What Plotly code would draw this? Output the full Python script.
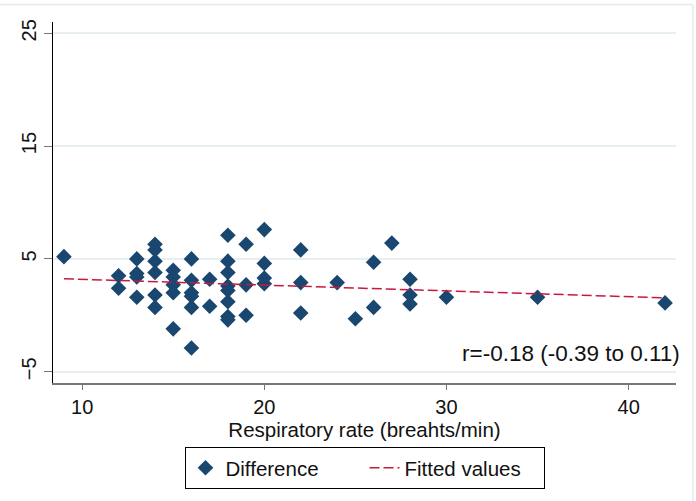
import plotly.graph_objects as go

resp_rate = [9,
             12, 12,
             13, 13, 13, 13,
             14, 14, 14, 14, 14, 14,
             15, 15, 15, 15, 15,
             16, 16, 16, 16, 16, 16,
             17, 17,
             18, 18, 18, 18, 18, 18, 18, 18,
             19, 19, 19,
             20, 20, 20, 20,
             22, 22, 22,
             24, 25, 26, 26, 27,
             28, 28, 28,
             30, 35, 42]
difference = [5.2,
              3.5, 2.4,
              5.0, 3.7, 3.4, 1.6,
              6.3, 5.8, 4.8, 3.8, 1.8, 0.7,
              4.0, 3.4, 2.7, 2.0, -1.2,
              5.0, 3.1, 2.0, 1.7, 0.7, -2.9,
              3.2, 0.8,
              7.1, 4.8, 3.8, 2.6, 2.2, 1.2, -0.1, -0.4,
              6.3, 2.7, 0.0,
              7.6, 4.6, 3.3, 2.8,
              5.8, 2.9, 0.2,
              2.9, -0.3, 4.7, 0.7, 6.4,
              3.2, 1.8, 1.0,
              1.6, 1.6, 1.1]
# fitted values line at its two ends
fit_x = [9, 42]
fit_y = [3.24, 1.55]
x_ticks = [10, 20, 30, 40]
y_ticks = [-5, 5, 15, 25]
annotation_text = "r=-0.18 (-0.39 to 0.11)"

FONT = "Liberation Sans, Arial, Helvetica, sans-serif"
NAVY = "#1a476f"
RED = "#c8183f"
FRAME = "#e4ebed"

fig = go.Figure()
fig.add_trace(go.Scatter(
    x=resp_rate, y=difference, mode="markers", name="Difference",
    marker=dict(symbol="diamond", size=12, color=NAVY, line=dict(width=0)),
))
fig.add_trace(go.Scatter(
    x=fit_x, y=fit_y, mode="lines", name="Fitted values",
    line=dict(color=RED, width=1.5, dash="10px,4px"),
))

fig.add_annotation(
    text=annotation_text, xref="paper", yref="paper", x=1.010, y=0.083,
    xanchor="right", yanchor="middle", showarrow=False,
    font=dict(size=22.5, color="#111", family=FONT),
)

# light frame at top and right edges of the image
fig.add_shape(type="line", xref="paper", yref="paper",
              x0=-0.1, x1=1.0273, y0=1.0488, y1=1.0488,
              line=dict(color=FRAME, width=1.5))
fig.add_shape(type="line", xref="paper", yref="paper",
              x0=1.0273, x1=1.0273, y0=-0.35, y1=1.0488,
              line=dict(color=FRAME, width=1.5))

fig.update_layout(
    width=696, height=501,
    margin=dict(l=53, r=20, t=22, b=116),
    paper_bgcolor="white", plot_bgcolor="white",
    font=dict(family=FONT, size=20, color="#111"),
    showlegend=True,
    legend=dict(
        orientation="h", x=0.5, xanchor="center", y=-0.177, yanchor="top",
        bordercolor="black", borderwidth=1, bgcolor="white",
        font=dict(size=20.5, family=FONT, color="#111"),
        itemwidth=30, entrywidth=134, entrywidthmode="pixels",
    ),
)
fig.update_xaxes(
    range=[8.4, 42.6], tickvals=x_ticks, showgrid=False, zeroline=False,
    showline=True, linecolor="#777", linewidth=1.5, automargin=False,
    ticks="outside", ticklen=5, tickcolor="#777",
    title=dict(text="Respiratory rate (breahts/min)", standoff=5, font=dict(size=20.5)),
    tickfont=dict(size=20),
)
fig.update_yaxes(
    range=[-6, 26], tickvals=y_ticks, showgrid=True, gridcolor="#e8eff1", gridwidth=1.5,
    zeroline=False, showline=True, linecolor="black", linewidth=1.2, automargin=False,
    ticks="outside", ticklen=8, tickcolor="#777", tickangle=-90,
    tickfont=dict(size=20),
)

fig.write_html("out.html", config={"displayModeBar": False},
               post_script="document.body.style.margin='0';")
